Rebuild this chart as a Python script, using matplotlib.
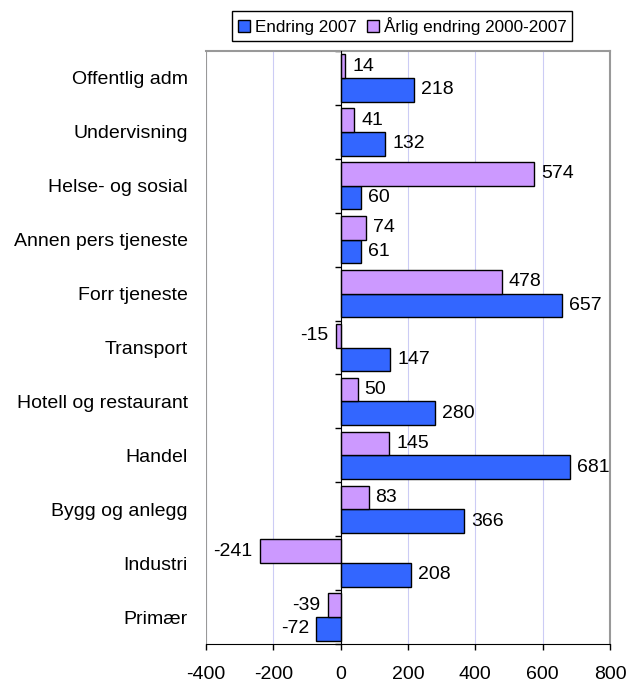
import numpy as np
import matplotlib
matplotlib.use('Agg')
import matplotlib.pyplot as plt

plt.rcParams['font.family'] = ['Liberation Sans', 'DejaVu Sans']
plt.rcParams['axes.unicode_minus'] = False

categories = ['Offentlig adm', 'Undervisning', 'Helse- og sosial', 'Annen pers tjeneste',
              'Forr tjeneste', 'Transport', 'Hotell og restaurant', 'Handel',
              'Bygg og anlegg', 'Industri', 'Primær']
endring_2007 = [218, 132, 60, 61, 657, 147, 280, 681, 366, 208, -72]
aarlig = [14, 41, 574, 74, 478, -15, 50, 145, 83, -241, -39]

BLUE = '#3366FF'
PURPLE = '#CC99FF'

fig = plt.figure(figsize=(6.39, 6.82), dpi=100)
ax = fig.add_axes([206/639, 1 - 644/682, (610 - 206)/639, (644 - 51)/682])

n = len(categories)
y = np.arange(n)[::-1]
h = 0.44
b1 = ax.barh(y - h/2, endring_2007, h, color=BLUE, edgecolor='black', linewidth=1,
             label='Endring 2007', zorder=3)
b2 = ax.barh(y + h/2, aarlig, h, color=PURPLE, edgecolor='black', linewidth=1,
             label='Årlig endring 2000-2007', zorder=3)

for bars, vals in [(b1, endring_2007), (b2, aarlig)]:
    for bar, v in zip(bars, vals):
        yc = bar.get_y() + bar.get_height()/2
        if v >= 0:
            ax.annotate(f'{v}', (v, yc), xytext=(5, 0), textcoords='offset points',
                        ha='left', va='center', fontsize=14)
        else:
            ax.annotate(f'{v}', (v, yc), xytext=(-5, 0), textcoords='offset points',
                        ha='right', va='center', fontsize=14)

ax.set_xlim(-400, 800)
ax.set_ylim(-0.5, n - 0.5)
ax.set_xticks(range(-400, 801, 200))
ax.tick_params(axis='x', labelsize=14, length=4.5, width=1, direction='out', pad=11)
ax.grid(axis='x', color='#ccccf5', linewidth=0.8, zorder=0)

ax.spines['left'].set_position(('data', 0))
ax.spines['left'].set_zorder(4)
ax.spines['bottom'].set_color('black')
ax.spines['top'].set_color('#999999')
ax.spines['right'].set_color('#999999')
ax.spines['top'].set_linewidth(1.5)
ax.spines['right'].set_linewidth(1.5)
# gray frame line on the left edge of the plot area
ax.axvline(-400, color='#999999', linewidth=1.5, zorder=2)

ax.set_yticks(y)
ax.set_yticklabels(categories)
ax.set_yticks(np.arange(n + 1) - 0.5, minor=True)
ax.tick_params(axis='y', which='major', length=0, labelsize=14, pad=110)
ax.tick_params(axis='y', which='minor', length=4, width=1, direction='out')

ax.legend(loc='center', bbox_to_anchor=(402/639, 1 - 26/682), bbox_transform=fig.transFigure,
          ncol=2, fontsize=12.3, frameon=True, fancybox=False, edgecolor='black',
          handlelength=0.7, handleheight=0.7, handletextpad=0.3, columnspacing=0.6,
          borderpad=0.35, framealpha=1)
ax.get_legend().get_frame().set_linewidth(1)

fig.savefig('out.png', dpi=100)
